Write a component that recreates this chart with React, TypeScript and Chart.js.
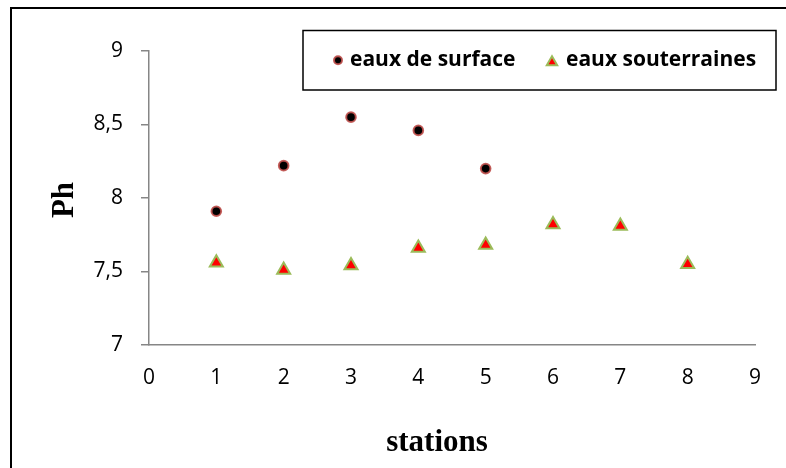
import { useEffect, useRef } from "react";
import { Chart, registerables } from "chart.js";
import { drawPoint } from "chart.js/helpers";

Chart.register(...registerables);

// pH measured at each station
const surfaceStations = [1, 2, 3, 4, 5];
const surfacePh = [7.91, 8.22, 8.55, 8.46, 8.2];
const groundStations = [1, 2, 3, 4, 5, 6, 7, 8];
const groundPh = [7.56, 7.51, 7.54, 7.66, 7.68, 7.82, 7.81, 7.55];

const seriesNames = ["eaux de surface", "eaux souterraines"];
const xTickLabels = ["0", "1", "2", "3", "4", "5", "6", "7", "8", "9"];
const yTickLabels = ["7", "7,5", "8", "8,5", "9"];
const xTitle = "stations";
const yTitle = "Ph";

const SANS = "'Open Sans', sans-serif";
const SERIF = "'Liberation Serif', 'Times New Roman', serif";
const AXIS_GREY = "#868686";

// White page with the black frame around the whole figure
const framePlugin = {
  id: "frame",
  beforeDraw(chart: any) {
    const { ctx, width, height } = chart;
    ctx.save();
    ctx.fillStyle = "#ffffff";
    ctx.fillRect(0, 0, width, height);
    ctx.strokeStyle = "#000000";
    ctx.lineWidth = 2;
    ctx.strokeRect(11, 8, width + 20, height + 20);
    ctx.restore();
  },
};

// Axis titles in bold serif
const titlesPlugin = {
  id: "axisTitles",
  afterDraw(chart: any) {
    const { ctx, chartArea } = chart;
    ctx.save();
    ctx.fillStyle = "#000000";
    ctx.font = `bold 31px ${SERIF}`;
    ctx.textAlign = "center";
    ctx.textBaseline = "middle";
    ctx.fillText(xTitle, (chartArea.left + chartArea.right) / 2 - 15, chartArea.bottom + 98);
    ctx.translate(65, (chartArea.top + chartArea.bottom) / 2 + 2);
    ctx.rotate(-Math.PI / 2);
    ctx.fillText(yTitle, 0, 0);
    ctx.restore();
  },
};

// Boxed legend overlapping the top of the plot
const legendBoxPlugin = {
  id: "legendBox",
  afterDraw(chart: any) {
    const { ctx, chartArea } = chart;
    const left = chartArea.left + 154;
    const right = chartArea.right + 21;
    const top = chartArea.top - 20.5;
    const bottom = chartArea.top + 39;
    const mid = (top + bottom) / 2;
    ctx.save();
    ctx.fillStyle = "#ffffff";
    ctx.fillRect(left, top, right - left, bottom - top);
    ctx.strokeStyle = "#000000";
    ctx.lineWidth = 1.5;
    ctx.strokeRect(left, top, right - left, bottom - top);

    const items = [
      { x: left + 35, textX: left + 47 },
      { x: left + 249, textX: left + 263 },
    ];
    chart.data.datasets.forEach((ds: any, i: number) => {
      const it = items[i];
      ctx.fillStyle = ds.backgroundColor;
      ctx.strokeStyle = ds.borderColor;
      ctx.lineWidth = ds.pointBorderWidth;
      drawPoint(
        ctx,
        {
          pointStyle: ds.pointStyle,
          radius: ds.pointStyle === "triangle" ? 6 : 4,
          borderWidth: ds.pointBorderWidth,
          rotation: 0,
        } as any,
        it.x,
        ds.pointStyle === "triangle" ? mid + 2 : mid
      );
      ctx.fillStyle = "#000000";
      ctx.font = `bold 21px ${SANS}`;
      ctx.textAlign = "left";
      ctx.textBaseline = "middle";
      ctx.fillText(seriesNames[i], it.textX, mid);
    });
    ctx.restore();
  },
};

export default function App() {
  const canvasRef = useRef<HTMLCanvasElement | null>(null);

  useEffect(() => {
    const canvas = canvasRef.current;
    if (!canvas) return;
    const chart = new Chart(canvas, {
      type: "scatter",
      data: {
        datasets: [
          {
            label: seriesNames[0],
            data: surfaceStations.map((s, i) => ({ x: s, y: surfacePh[i] })),
            pointStyle: "circle",
            pointRadius: 4.8,
            pointBorderWidth: 2,
            backgroundColor: "#000000",
            borderColor: "rgba(192,80,77,0.9)",
            showLine: false,
          },
          {
            label: seriesNames[1],
            data: groundStations.map((s, i) => ({ x: s, y: groundPh[i] })),
            pointStyle: "triangle",
            pointRadius: 7.5,
            pointBorderWidth: 2,
            backgroundColor: "#ff0000",
            borderColor: "#9bbb59",
            showLine: false,
          },
        ],
      },
      options: {
        responsive: false,
        animation: false,
        events: [],
        layout: { padding: { top: 51, right: 31, left: 0, bottom: 0 } },
        plugins: {
          legend: { display: false },
          tooltip: { enabled: false },
        },
        scales: {
          x: {
            type: "linear",
            position: "bottom",
            min: 0,
            max: 9,
            ticks: {
              stepSize: 1,
              padding: 20,
              color: "#000000",
              font: { family: SANS, size: 21 },
              callback: (_v: any, i: number) => xTickLabels[i],
            },
            grid: { display: true, drawOnChartArea: false, drawTicks: false, color: AXIS_GREY },
            border: { display: true, color: AXIS_GREY, width: 1.5 },
            afterFit: (s: any) => {
              s.height = 123;
            },
          },
          y: {
            type: "linear",
            min: 7,
            max: 9,
            ticks: {
              stepSize: 0.5,
              padding: 18,
              color: "#000000",
              font: { family: SANS, size: 21 },
              callback: (_v: any, i: number) => yTickLabels[i],
            },
            grid: {
              display: true,
              drawOnChartArea: false,
              drawTicks: true,
              tickLength: 8,
              color: AXIS_GREY,
              lineWidth: 1.5,
            },
            border: { display: true, color: AXIS_GREY, width: 1.5 },
            afterFit: (s: any) => {
              s.width = 149;
            },
          },
        },
      },
      plugins: [framePlugin, titlesPlugin, legendBoxPlugin],
    });
    return () => chart.destroy();
  }, []);

  return (
    <div style={{ position: "fixed", left: 0, top: 0, width: 786, height: 468 }}>
      <canvas ref={canvasRef} width={786} height={468} style={{ display: "block" }} />
    </div>
  );
}
